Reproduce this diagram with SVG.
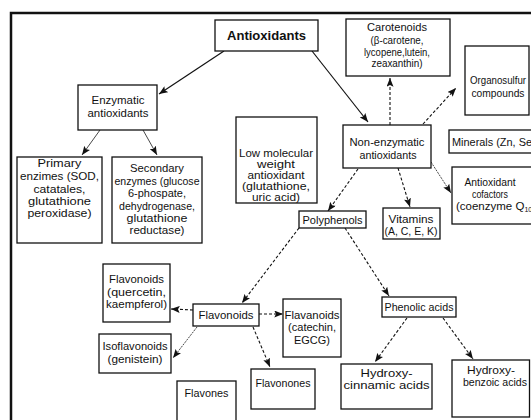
<svg xmlns="http://www.w3.org/2000/svg" width="531" height="420" viewBox="0 0 531 420">
<defs>
<style>
.b{fill:#fff;stroke:#111;stroke-width:1.3}
text{font-family:"Liberation Sans",Arial,sans-serif;font-size:11.5px;fill:#111;text-anchor:middle}
.bold{font-weight:bold;font-size:13px}
.s{fill:none;stroke:#111;stroke-width:1.2}
.d{fill:none;stroke:#111;stroke-width:1.1;stroke-dasharray:3 2}
.t{fill:none;stroke:#333;stroke-width:0.9}
</style>
<marker id="ah" viewBox="0 0 10 8" refX="10" refY="4" markerWidth="9" markerHeight="7" orient="auto" markerUnits="userSpaceOnUse">
<path d="M0,0 L10,4 L0,8 L2,4 z" fill="#111"/>
</marker>
</defs>
<rect width="531" height="420" fill="#fff"/>
<rect x="11" y="13" width="540" height="430" fill="none" stroke="#111" stroke-width="2.5"/>

<g id="connectors">
<line class="s" x1="224" y1="51" x2="159" y2="94" marker-end="url(#ah)"/>
<line class="s" x1="312" y1="51" x2="368" y2="122" marker-end="url(#ah)"/>
<line class="t" x1="100" y1="130" x2="82" y2="155" marker-end="url(#ah)"/>
<line class="t" x1="143" y1="130" x2="157" y2="155" marker-end="url(#ah)"/>
<line class="d" x1="390" y1="125" x2="390" y2="78" marker-end="url(#ah)"/>
<line class="d" x1="423" y1="124" x2="456" y2="88" marker-end="url(#ah)"/>
<line class="t" x1="431" y1="162" x2="451" y2="193" stroke-dasharray="2 1" marker-end="url(#ah)"/>
<line class="d" x1="358" y1="169" x2="328" y2="211" marker-end="url(#ah)"/>
<line class="d" x1="398" y1="168" x2="410" y2="207" marker-end="url(#ah)"/>
<line class="d" x1="299" y1="228" x2="242" y2="303" marker-end="url(#ah)"/>
<line class="d" x1="345" y1="228" x2="389" y2="296" marker-end="url(#ah)"/>
<line class="d" x1="193" y1="310" x2="171" y2="309" marker-end="url(#ah)"/>
<line class="t" x1="197" y1="327" x2="173" y2="358" stroke-dasharray="2 1" marker-end="url(#ah)"/>
<line class="d" x1="253" y1="327" x2="270" y2="367" marker-end="url(#ah)"/>
<line class="d" x1="259" y1="314" x2="283" y2="314" marker-end="url(#ah)"/>
<line class="d" x1="407" y1="318" x2="375" y2="362" marker-end="url(#ah)"/>
<line class="d" x1="443" y1="318" x2="473" y2="359" marker-end="url(#ah)"/>
</g>

<g id="antioxidants">
<rect class="b" x="215" y="20" width="103" height="31" stroke-width="1.6"/>
<text class="bold" x="266.5" y="40" textLength="79" lengthAdjust="spacingAndGlyphs">Antioxidants</text>
</g>
<g id="enzymatic">
<rect class="b" x="78" y="85" width="79" height="45"/>
<text x="118" y="104" textLength="53" lengthAdjust="spacingAndGlyphs">Enzymatic</text>
<text x="118" y="117" textLength="61" lengthAdjust="spacingAndGlyphs">antioxidants</text>
</g>
<g id="carotenoids">
<rect class="b" x="346" y="19" width="104" height="57"/>
<text x="397" y="31" textLength="60" lengthAdjust="spacingAndGlyphs">Carotenoids</text>
<text x="397" y="44" textLength="53" lengthAdjust="spacingAndGlyphs">(β-carotene,</text>
<text x="397" y="56" textLength="66" lengthAdjust="spacingAndGlyphs">lycopene,lutein,</text>
<text x="397" y="67" textLength="51" lengthAdjust="spacingAndGlyphs">zeaxanthin)</text>
</g>
<g id="organosulfur">
<rect class="b" x="465" y="46" width="64" height="69"/>
<text x="498" y="84" textLength="56" lengthAdjust="spacingAndGlyphs">Organosulfur</text>
<text x="498" y="97" textLength="53" lengthAdjust="spacingAndGlyphs">compounds</text>
</g>
<g id="nonenzymatic">
<rect class="b" x="343" y="125" width="88" height="43"/>
<text x="387" y="146" textLength="75" lengthAdjust="spacingAndGlyphs">Non-enzymatic</text>
<text x="388" y="159" textLength="57" lengthAdjust="spacingAndGlyphs">antioxidants</text>
</g>
<g id="minerals">
<rect class="b" x="449" y="130" width="100" height="23"/>
<text x="452" y="146" style="text-anchor:start" textLength="80" lengthAdjust="spacingAndGlyphs">Minerals (Zn, Se</text>
</g>
<g id="cofactors">
<rect class="b" x="452" y="167" width="100" height="57"/>
<text x="490" y="186" textLength="51" lengthAdjust="spacingAndGlyphs">Antioxidant</text>
<text x="490" y="198" textLength="36" lengthAdjust="spacingAndGlyphs">cofactors</text>
<text x="456" y="210" style="text-anchor:start">(coenzyme Q<tspan font-size="7" dy="2">10</tspan><tspan dy="-2">)</tspan></text>
</g>
<g id="lowmolecular">
<rect class="b" x="236" y="117" width="81" height="86"/>
<text x="276" y="157" font-size="10.5" textLength="74" lengthAdjust="spacingAndGlyphs">Low molecular</text>
<text x="276" y="168" font-size="10.5" textLength="38" lengthAdjust="spacingAndGlyphs">weight</text>
<text x="276" y="179" font-size="10.5" textLength="57" lengthAdjust="spacingAndGlyphs">antioxidant</text>
<text x="276" y="190" font-size="10.5" textLength="68" lengthAdjust="spacingAndGlyphs">(glutathione,</text>
<text x="276" y="200.5" font-size="10.5" textLength="48" lengthAdjust="spacingAndGlyphs">uric acid)</text>
</g>
<g id="primary">
<rect class="b" x="17" y="157" width="85" height="86"/>
<text x="59.5" y="167" font-size="12" textLength="44" lengthAdjust="spacingAndGlyphs">Primary</text>
<text x="59.5" y="180" font-size="12" textLength="79" lengthAdjust="spacingAndGlyphs">enzimes (SOD,</text>
<text x="59.5" y="192.5" font-size="12" textLength="52" lengthAdjust="spacingAndGlyphs">catatales,</text>
<text x="59.5" y="205" font-size="12" textLength="63" lengthAdjust="spacingAndGlyphs">glutathione</text>
<text x="59.5" y="217" font-size="12" textLength="64" lengthAdjust="spacingAndGlyphs">peroxidase)</text>
</g>
<g id="secondary">
<rect class="b" x="112" y="157" width="90" height="86"/>
<text x="157" y="172" textLength="54" lengthAdjust="spacingAndGlyphs">Secondary</text>
<text x="157" y="184.5" textLength="85" lengthAdjust="spacingAndGlyphs">enzymes (glucose</text>
<text x="157" y="197" textLength="58" lengthAdjust="spacingAndGlyphs">6-phospate,</text>
<text x="157" y="209.5" textLength="76" lengthAdjust="spacingAndGlyphs">dehydrogenase,</text>
<text x="157" y="222" textLength="61" lengthAdjust="spacingAndGlyphs">glutathione</text>
<text x="157" y="234" textLength="55" lengthAdjust="spacingAndGlyphs">reductase)</text>
</g>
<g id="polyphenols">
<rect class="b" x="299" y="211" width="67" height="17"/>
<text x="332.5" y="223.5" textLength="60" lengthAdjust="spacingAndGlyphs">Polyphenols</text>
</g>
<g id="vitamins">
<rect class="b" x="383" y="208" width="57" height="31"/>
<text x="411" y="223" textLength="45" lengthAdjust="spacingAndGlyphs">Vitamins</text>
<text x="411" y="235" textLength="53" lengthAdjust="spacingAndGlyphs">(A, C, E, K)</text>
</g>
<g id="flavonoids-quercetin">
<rect class="b" x="103" y="264" width="67" height="58"/>
<text x="136.5" y="283" textLength="55" lengthAdjust="spacingAndGlyphs">Flavonoids</text>
<text x="136.5" y="296" textLength="59" lengthAdjust="spacingAndGlyphs">(quercetin,</text>
<text x="136.5" y="308" textLength="61" lengthAdjust="spacingAndGlyphs">kaempferol)</text>
</g>
<g id="flavonoids">
<rect class="b" x="193" y="304" width="66" height="22"/>
<text x="226" y="318.5" textLength="55" lengthAdjust="spacingAndGlyphs">Flavonoids</text>
</g>
<g id="isoflavonoids">
<rect class="b" x="99" y="334" width="72" height="39"/>
<text x="135" y="350" textLength="65" lengthAdjust="spacingAndGlyphs">Isoflavonoids</text>
<text x="135" y="363" textLength="55" lengthAdjust="spacingAndGlyphs">(genistein)</text>
</g>
<g id="flavones">
<rect class="b" x="177" y="381" width="59" height="60"/>
<text x="206.5" y="397" textLength="44" lengthAdjust="spacingAndGlyphs">Flavones</text>
</g>
<g id="flavonones">
<rect class="b" x="251" y="369" width="64" height="40"/>
<text x="283" y="387" textLength="55" lengthAdjust="spacingAndGlyphs">Flavonones</text>
</g>
<g id="flavanoids">
<rect class="b" x="283" y="299" width="58" height="58"/>
<text x="312" y="319" textLength="55" lengthAdjust="spacingAndGlyphs">Flavanoids</text>
<text x="312" y="331" textLength="48" lengthAdjust="spacingAndGlyphs">(catechin,</text>
<text x="312" y="344" textLength="36" lengthAdjust="spacingAndGlyphs">EGCG)</text>
</g>
<g id="phenolic">
<rect class="b" x="382" y="297" width="74" height="20"/>
<text x="419" y="311" textLength="69" lengthAdjust="spacingAndGlyphs">Phenolic acids</text>
</g>
<g id="hydroxycinnamic">
<rect class="b" x="341" y="364" width="91" height="45"/>
<text x="386.5" y="377" font-size="12.5" textLength="52" lengthAdjust="spacingAndGlyphs">Hydroxy-</text>
<text x="386.5" y="389" font-size="12.5" textLength="86" lengthAdjust="spacingAndGlyphs">cinnamic acids</text>
</g>
<g id="hydroxybenzoic">
<rect class="b" x="452" y="360" width="77.5" height="57"/>
<text x="491" y="374" textLength="48" lengthAdjust="spacingAndGlyphs">Hydroxy-</text>
<text x="495" y="386" textLength="64" lengthAdjust="spacingAndGlyphs">benzoic acids</text>
</g>
</svg>
